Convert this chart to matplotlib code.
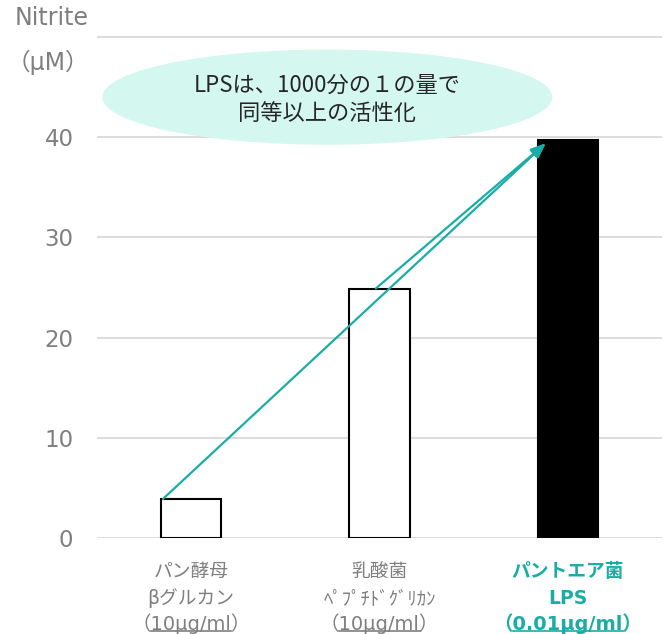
import matplotlib
matplotlib.use('Agg')
from matplotlib import pyplot as plt
from matplotlib.patches import Ellipse

# latin glyphs from DejaVu, Japanese from Noto
plt.rcParams['font.family'] = ['DejaVu Sans', 'Noto Sans CJK JP']
CJK_FIRST = ['Noto Sans CJK JP', 'DejaVu Sans']

# nitrite production per stimulant
names = ['パン酵母', '乳酸菌', 'パントエア菌']
subnames = ['βグルカン', 'ﾍﾟﾌﾟﾁﾄﾞｸﾞﾘｶﾝ', 'LPS']
doses = ['10μg/ml', '10μg/ml', '0.01μg/ml']
nitrite = [3.9, 24.9, 39.7]
yticks = [0, 10, 20, 30, 40]

teal = '#1AADA6'
grey_text = '#7F7F7F'

fig = plt.figure(figsize=(6.71, 6.34), dpi=100)
ax = fig.add_axes([0.1446, 0.1514, 0.8420, 0.8060])

x = range(len(nitrite))
face = ['white', 'white', 'black']
ax.bar(x, nitrite, width=0.32, color=face, edgecolor='black', linewidth=1.5, zorder=3)

ax.set_xlim(-0.5, 2.5)
ax.set_ylim(0, 51)
ax.set_yticks(yticks + [50])
ax.set_yticklabels([str(v) for v in yticks] + [''])
ax.tick_params(axis='y', length=0, labelsize=16.5, labelcolor=grey_text, pad=17)
ax.tick_params(axis='x', length=0, labelbottom=False)
ax.grid(axis='y', color='#D9D9D9', linewidth=1.3, zorder=0)
for s in ax.spines.values():
    s.set_visible(False)

# callout bubble
ax.add_patch(Ellipse((0.723, 44.0), 2.39, 9.5, facecolor='#D4F7F0', edgecolor='none', zorder=4))
ax.text(0.723, 43.8, 'LPSは、1000分の１の量で\n同等以上の活性化', ha='center', va='center',
        fontsize=16, color='#262626', linespacing=1.3, family=CJK_FIRST, zorder=5)

# arrows from the smaller bars up to the LPS bar
tip = (2 - 0.117, nitrite[2] - 0.3)
starts = [(0 - 0.15, nitrite[0]), (1 - 0.02, nitrite[1])]
for sx, sy in starts:
    ax.annotate('', xy=tip, xytext=(sx, sy),
                arrowprops=dict(arrowstyle='-|>,head_length=0.9,head_width=0.35',
                                color=teal, linewidth=1.6, shrinkA=0, shrinkB=0),
                zorder=6)

# y-axis title
fig.text(0.077, 0.972, 'Nitrite', ha='center', va='center', fontsize=17, color=grey_text)
fig.text(0.072, 0.902, '（μM）', ha='center', va='center', fontsize=17, color=grey_text)

# category labels
dose_texts = []
for i in x:
    col = teal if i == 2 else grey_text
    wt = 'bold' if i == 2 else 'normal'
    tf = ax.get_xaxis_transform()
    ax.text(i, -0.065, names[i], transform=tf, ha='center', va='center',
            fontsize=13.5, color=col, fontweight=wt)
    ax.text(i, -0.118, subnames[i], transform=tf, ha='center', va='center',
            fontsize=13.5, color=col, fontweight=wt)
    t = ax.text(i, -0.168, '（' + doses[i] + '）', transform=tf, ha='center', va='center',
                fontsize=14, color=col, fontweight=wt)
    dose_texts.append(t)

# underline the dose part
fig.canvas.draw()
renderer = fig.canvas.get_renderer()
inv = fig.transFigure.inverted()
for t in dose_texts:
    bb = t.get_window_extent(renderer)
    probe = fig.text(0, 0, '（', fontsize=t.get_fontsize(), fontweight=t.get_fontweight())
    pw = probe.get_window_extent(renderer).width
    probe.remove()
    x0, y0 = inv.transform((bb.x0 + pw, bb.y0 + 3))
    x1, _ = inv.transform((bb.x1 - pw, bb.y0 + 3))
    fig.add_artist(plt.Line2D([x0, x1], [y0, y0], color=t.get_color(), linewidth=1.2))

fig.savefig('out.png', dpi=100)
